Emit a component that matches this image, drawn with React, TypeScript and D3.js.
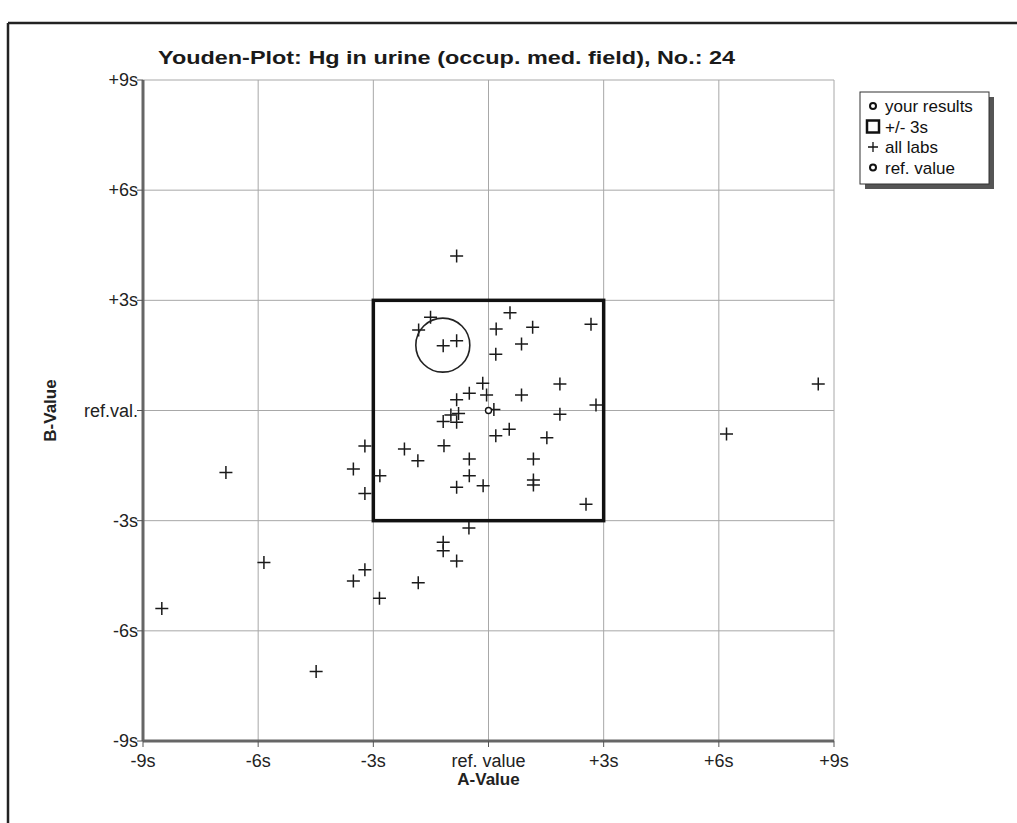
import React from 'react';
import * as d3 from 'd3';

// Youden plot values, in units of s (A-value / B-value)
const labsA = [
  -0.83, 0.56, -1.51, -1.82, 0.2, 1.15, 2.67, -1.18, -0.83, 0.86,
  0.19, 1.86, -0.15, 0.86, -0.5, -0.05, -0.83, 0.14, 2.8, 1.86,
  -0.98, -0.78, -1.18, -0.83, 0.54, 0.19, 1.52, -3.22, -2.19, -1.16,
  -1.84, -0.5, 1.17, -3.52, -2.83, -0.5, 1.17, 1.17, -0.83, -0.14,
  -3.22, 2.54, -0.51, -1.18, -1.18, -0.83, -1.83, -3.22, -3.52, -2.84,
  -6.84, -5.85, -8.51, -4.49, 8.59, 6.2,
];
const labsB = [
  4.21, 2.66, 2.54, 2.19, 2.22, 2.27, 2.35, 1.76, 1.9, 1.81,
  1.53, 0.72, 0.74, 0.42, 0.47, 0.42, 0.29, 0.03, 0.15, -0.1,
  -0.12, -0.08, -0.3, -0.32, -0.51, -0.69, -0.74, -0.97, -1.05, -0.96,
  -1.37, -1.32, -1.32, -1.59, -1.78, -1.78, -1.89, -2.03, -2.09, -2.05,
  -2.26, -2.55, -3.2, -3.59, -3.82, -4.1, -4.69, -4.34, -4.64, -5.11,
  -1.69, -4.14, -5.39, -7.11, 0.72, -0.64,
];
const yourResult = [-1.19, 1.78];
const refValue = [0, 0];

const tickValues = [-9, -6, -3, 0, 3, 6, 9];
const xTickLabels = ['-9s', '-6s', '-3s', 'ref. value', '+3s', '+6s', '+9s'];
const yTickLabels = ['-9s', '-6s', '-3s', 'ref.val.', '+3s', '+6s', '+9s'];
const legendItems = ['your results', '+/- 3s', 'all labs', 'ref. value'];

const W = 1017;
const H = 823;
const font = '"Liberation Sans", Arial, sans-serif';

export default function App() {
  const x = d3.scaleLinear().domain([-9, 9]).range([143, 834]);
  const y = d3.scaleLinear().domain([-9, 9]).range([741, 80]);
  const arm = 6.5;

  return (
    <div style={{ position: 'absolute', left: 0, top: 0 }}>
      <svg width={W} height={H} style={{ display: 'block', background: '#fff' }} fontFamily={font}>
        {/* outer frame */}
        <line x1={8} x2={W} y1={23} y2={23} stroke="#222" strokeWidth={2.5} />
        <line x1={8} x2={8} y1={23} y2={H} stroke="#222" strokeWidth={2.5} />

        <text x={158} y={64} fontSize={19} fontWeight="bold" fill="#1a1a1a" textLength={577} lengthAdjust="spacingAndGlyphs">
          Youden-Plot: Hg in urine (occup. med. field), No.: 24
        </text>

        {/* grid */}
        {tickValues.map((t) => (
          <g key={'g' + t}>
            <line x1={x(t)} x2={x(t)} y1={y(9)} y2={y(-9)} stroke="#a8a8a8" strokeWidth={1} />
            <line x1={x(-9)} x2={x(9)} y1={y(t)} y2={y(t)} stroke="#a8a8a8" strokeWidth={1} />
          </g>
        ))}

        {/* axes */}
        <line x1={x(-9)} x2={x(-9)} y1={y(9)} y2={y(-9)} stroke="#666" strokeWidth={3} />
        <line x1={x(-9)} x2={x(9)} y1={y(-9)} y2={y(-9)} stroke="#666" strokeWidth={3} />
        {tickValues.map((t, i) => (
          <g key={'t' + t}>
            <line x1={x(t)} x2={x(t)} y1={y(-9)} y2={y(-9) + 6} stroke="#555" strokeWidth={1} />
            <text x={x(t)} y={y(-9) + 26} fontSize={18} textAnchor="middle" fill="#222">
              {xTickLabels[i]}
            </text>
            <line x1={x(-9) - 6} x2={x(-9)} y1={y(t)} y2={y(t)} stroke="#555" strokeWidth={1} />
            <text x={x(-9) - 5} y={y(t) + 6} fontSize={18} textAnchor="end" fill="#222">
              {yTickLabels[i]}
            </text>
          </g>
        ))}
        <text x={x(0)} y={785} fontSize={17} fontWeight="bold" textAnchor="middle" fill="#222">
          A-Value
        </text>
        <text transform={`translate(56,${y(0)}) rotate(-90)`} fontSize={17} fontWeight="bold" textAnchor="middle" fill="#222">
          B-Value
        </text>

        {/* +/- 3s box */}
        <rect x={x(-3)} y={y(3)} width={x(3) - x(-3)} height={y(-3) - y(3)} fill="none" stroke="#111" strokeWidth={3.5} />

        {/* all labs */}
        {labsA.map((a, i) => (
          <path
            key={'p' + i}
            d={`M${x(a) - arm},${y(labsB[i])}h${arm * 2}M${x(a)},${y(labsB[i]) - arm}v${arm * 2}`}
            stroke="#1a1a1a"
            strokeWidth={1.5}
          />
        ))}

        {/* ref value */}
        <circle cx={x(refValue[0])} cy={y(refValue[1])} r={3} fill="#fff" stroke="#111" strokeWidth={1.4} />

        {/* your result */}
        <circle cx={x(yourResult[0])} cy={y(yourResult[1])} r={27} fill="none" stroke="#222" strokeWidth={1.6} />

        {/* legend */}
        <rect x={865} y={97} width={129} height={92} fill="#555" />
        <rect x={860} y={92} width={129} height={92} fill="#fff" stroke="#333" strokeWidth={1} />
        {legendItems.map((lab, i) => {
          const cy = 106 + i * 20.5;
          return (
            <g key={lab}>
              {i === 0 || i === 3 ? (
                <circle cx={873} cy={cy} r={3} fill="#fff" stroke="#111" strokeWidth={2} />
              ) : i === 1 ? (
                <rect x={867} y={cy - 6} width={12} height={12} fill="#fff" stroke="#111" strokeWidth={2.5} />
              ) : (
                <path d={`M${873 - 5},${cy}h10M873,${cy - 5}v10`} stroke="#111" strokeWidth={1.3} />
              )}
              <text x={885} y={cy + 6} fontSize={17} fill="#111">
                {lab}
              </text>
            </g>
          );
        })}
      </svg>
    </div>
  );
}
